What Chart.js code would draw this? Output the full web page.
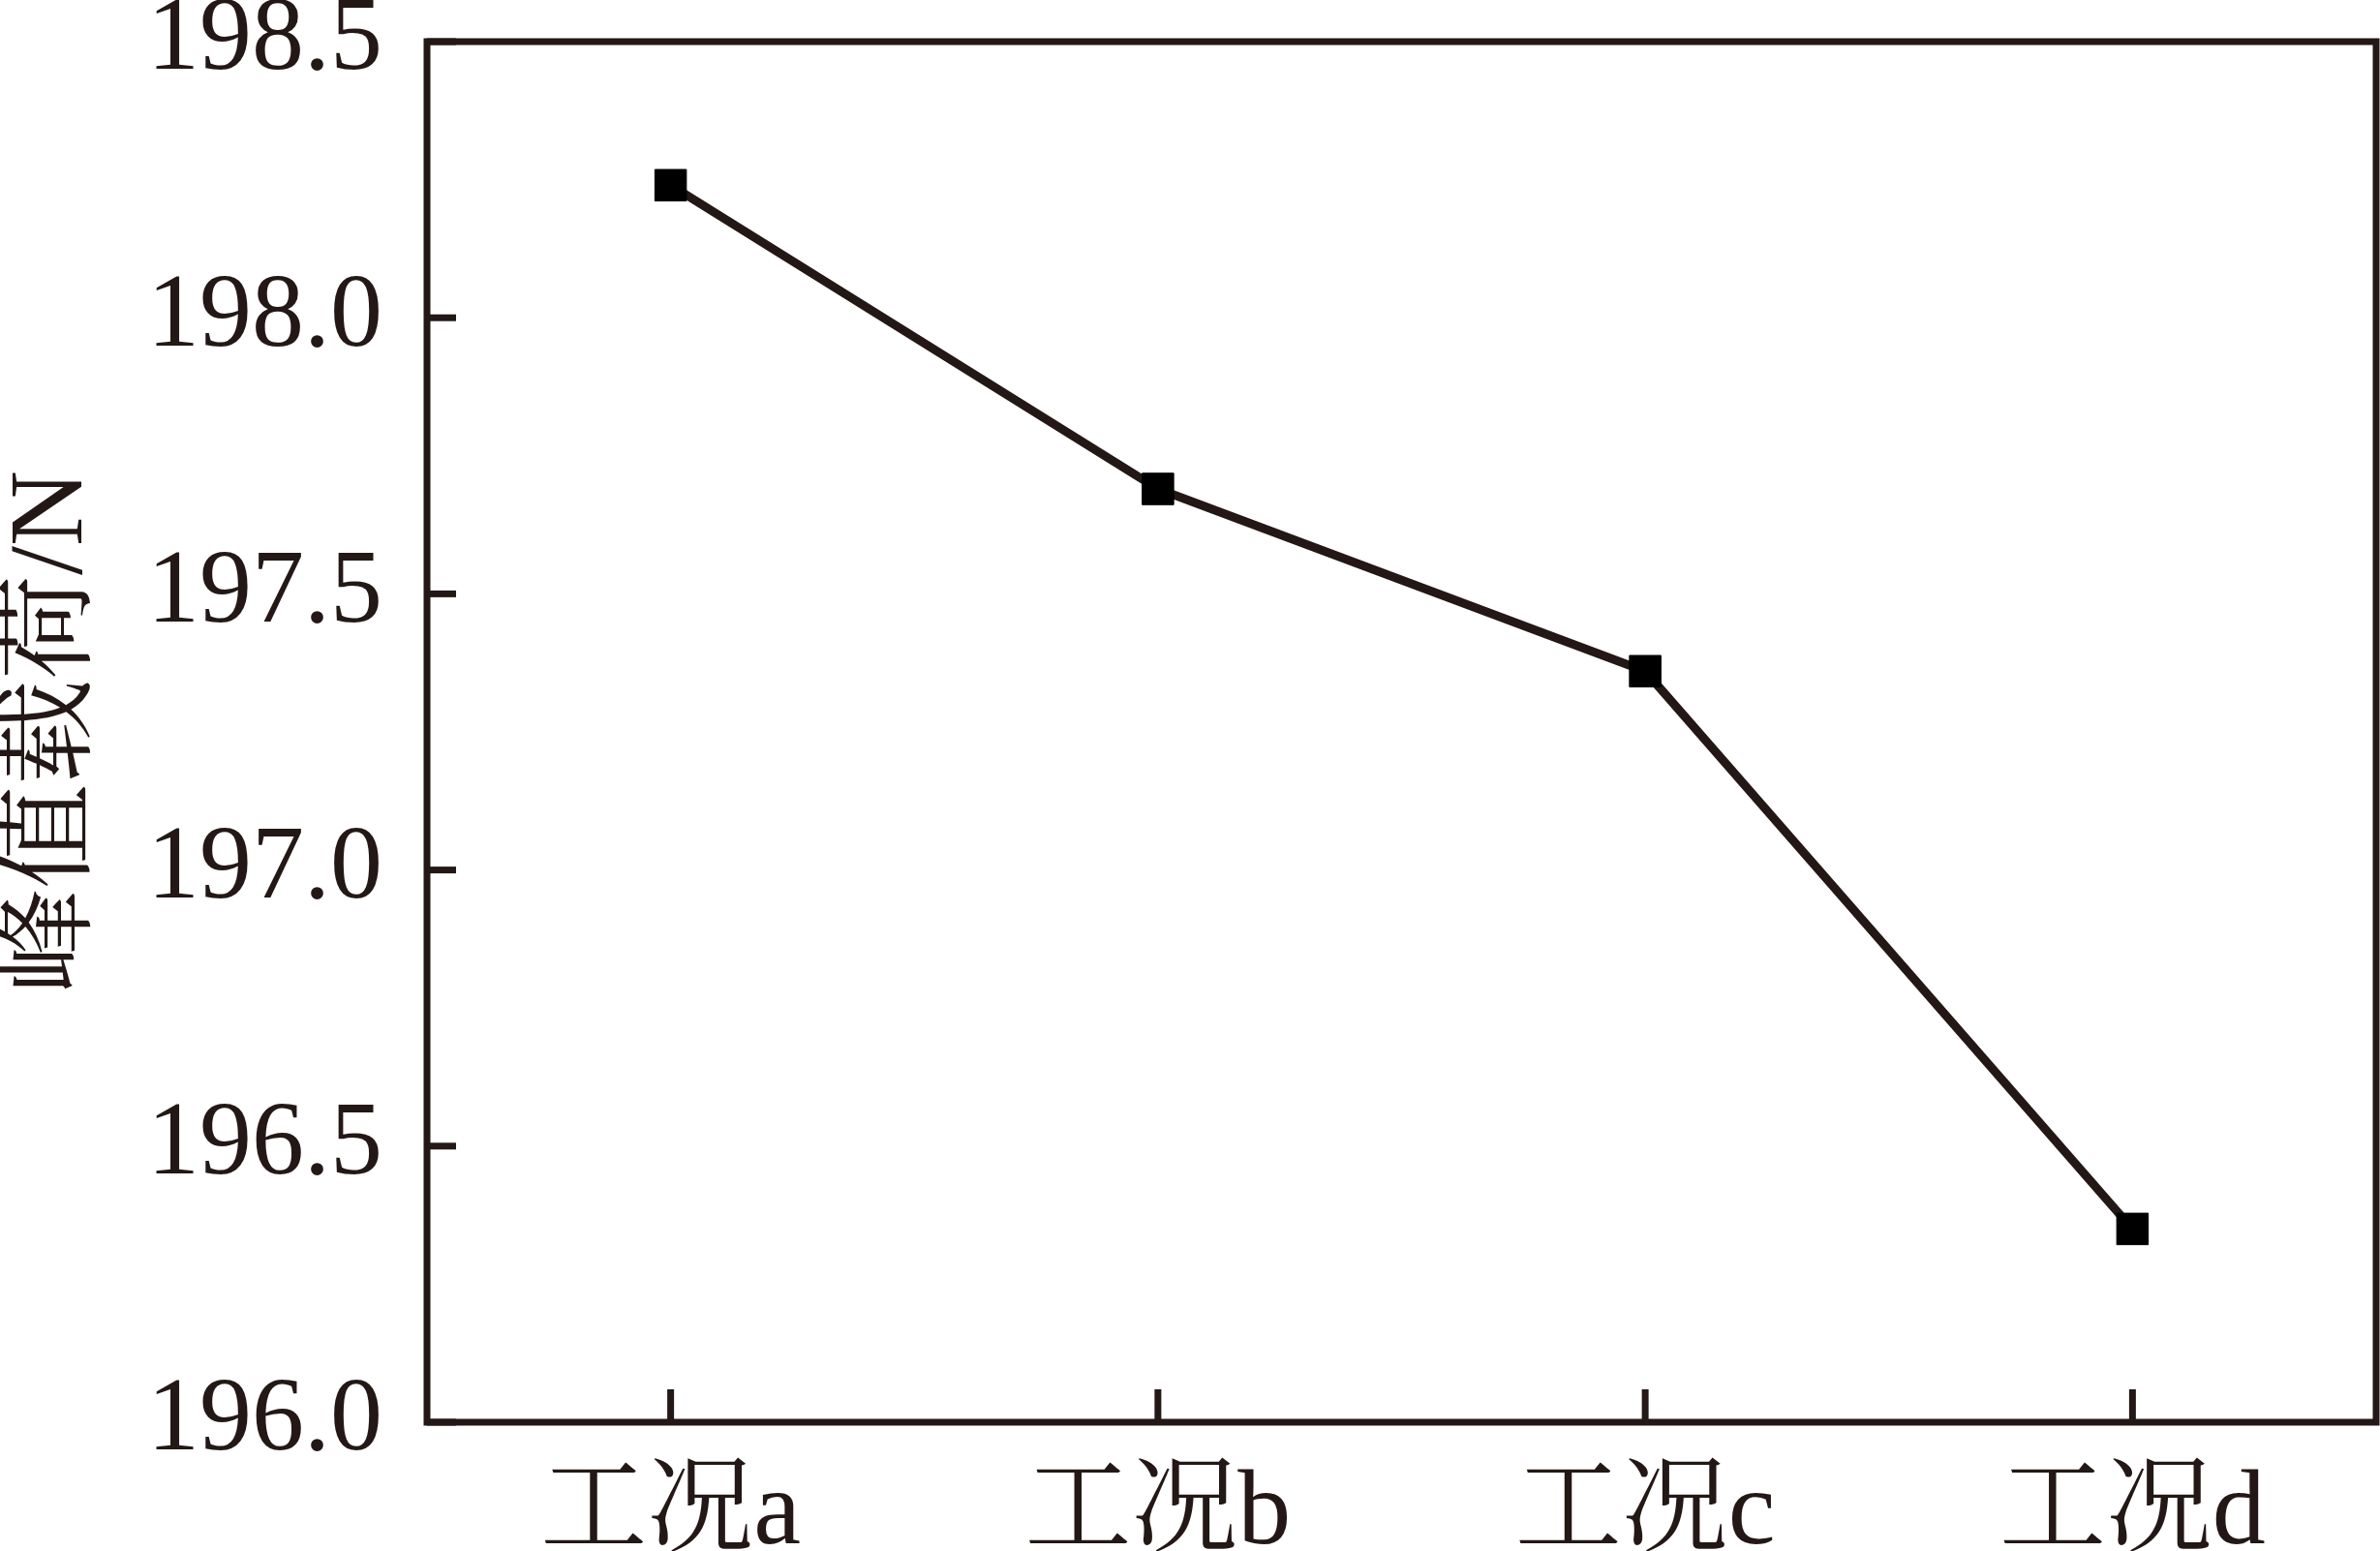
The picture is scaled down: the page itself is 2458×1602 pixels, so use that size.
<!DOCTYPE html>
<html>
<head>
<meta charset="utf-8">
<script src="https://cdn.jsdelivr.net/npm/chart.js@4"></script>
<style>
  html, body { margin: 0; padding: 0; background: #fff; overflow: hidden; }
  canvas { display: block; }
</style>
</head>
<body>
<canvas id="chart" width="2458" height="1602"></canvas>
<script>
// values
const cases = ['工况a', '工况b', '工况c', '工况d'];
const peakLoad = [198.24, 197.69, 197.36, 196.35];
const yTicks = [196.0, 196.5, 197.0, 197.5, 198.0, 198.5];

const ink = '#231815';
const serif = "'Liberation Serif', 'Noto Serif CJK SC', 'Noto Sans CJK SC', serif";

// box round the plot plus inward tick marks
const framePlugin = {
  id: 'frame',
  afterDraw(chart) {
    const { ctx, chartArea, scales } = chart;
    const { left, right, top, bottom } = chartArea;
    const line = (x1, y1, x2, y2) => {
      ctx.beginPath();
      ctx.moveTo(x1, y1);
      ctx.lineTo(x2, y2);
      ctx.stroke();
    };
    ctx.save();
    ctx.strokeStyle = ink;
    ctx.lineWidth = 7;
    ctx.lineCap = 'square';
    ctx.strokeRect(left, top, right - left, bottom - top);

    ctx.lineCap = 'butt';
    scales.x.ticks.forEach((t, i) => {
      const px = scales.x.getPixelForTick(i);
      line(px, bottom, px, bottom - 34);
    });
    scales.y.ticks.forEach((t, i) => {
      const py = scales.y.getPixelForTick(i);
      line(left, py, left + 30, py);
    });
    ctx.restore();
  }
};

new Chart(document.getElementById('chart'), {
  type: 'line',
  data: {
    labels: cases,
    datasets: [{
      data: peakLoad,
      borderColor: ink,
      borderWidth: 9,
      fill: false,
      tension: 0,
      pointStyle: 'rect',
      pointRadius: 23,
      pointBackgroundColor: '#000',
      pointBorderColor: '#000',
      pointBorderWidth: 1
    }]
  },
  options: {
    responsive: false,
    animation: false,
    layout: {
      autoPadding: false,
      padding: { top: 43, right: 4, bottom: 0, left: 0 }
    },
    plugins: {
      legend: { display: false },
      tooltip: { enabled: false }
    },
    scales: {
      x: {
        offset: true,
        afterFit(scale) {
          scale.height = 133;
          scale.paddingLeft = 0;
          scale.paddingRight = 0;
        },
        grid: { display: false, drawTicks: false },
        border: { display: false },
        ticks: {
          color: ink,
          padding: 41,
          maxRotation: 0,
          font: { family: serif, size: 110, lineHeight: 1 }
        }
      },
      y: {
        min: yTicks[0],
        max: yTicks[yTicks.length - 1],
        afterBuildTicks(scale) {
          scale.ticks = yTicks.map(v => ({ value: v }));
        },
        afterFit(scale) {
          scale.width = 441;
          scale.paddingTop = 0;
        },
        grid: { display: false, drawTicks: false },
        border: { display: false },
        ticks: {
          color: ink,
          padding: 46,
          font: { family: serif, size: 108, lineHeight: 1 },
          callback: v => Number(v).toFixed(1)
        },
        title: {
          display: true,
          text: '峰值载荷/N',
          color: ink,
          padding: { top: 2, bottom: 0 },
          font: { family: serif, size: 108, lineHeight: 1 }
        }
      }
    }
  },
  plugins: [framePlugin]
});
</script>
</body>
</html>
